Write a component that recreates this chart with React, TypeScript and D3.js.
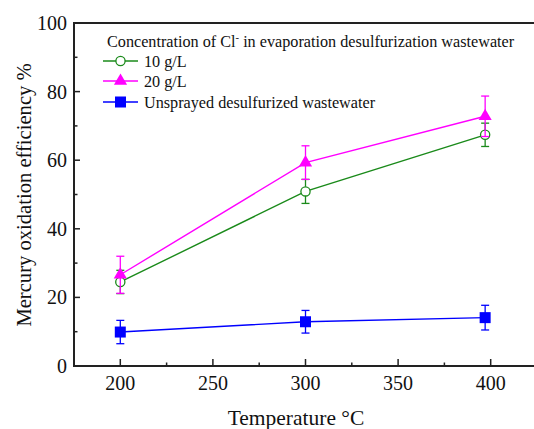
import React from 'react';
import * as d3 from 'd3';

// temperatures (°C) and oxidation efficiency (%)
const temps = [200, 300, 397];
const cl10 = [24.5, 50.9, 67.4];
const cl10Err = [3.4, 3.5, 3.4];
const cl20 = [26.6, 59.3, 72.8];
const cl20Err = [5.4, 4.9, 5.9];
const unsprayed = [9.9, 12.9, 14.1];
const unsprayedErr = [3.4, 3.3, 3.6];

const xTicks = [200, 250, 300, 350, 400];
const xMinor = [225, 275, 325, 375];
const yTicks = [0, 20, 40, 60, 80, 100];
const yMinor = [10, 30, 50, 70, 90];

const width = 534;
const height = 429;
const font = 'Liberation Serif, DejaVu Serif, serif';

const series = [
  { name: '10 g/L', values: cl10, err: cl10Err, color: '#1a8a1a', marker: 'circle' },
  { name: '20 g/L', values: cl20, err: cl20Err, color: '#ff00ff', marker: 'triangle' },
  { name: 'Unsprayed desulfurized wastewater', values: unsprayed, err: unsprayedErr, color: '#0000ff', marker: 'square' },
];

const Marker: React.FC<{ type: string; x: number; y: number; color: string }> = ({ type, x, y, color }) => {
  if (type === 'circle') {
    return <circle cx={x} cy={y} r={4.6} fill="white" stroke={color} strokeWidth={1.3} />;
  }
  if (type === 'triangle') {
    const s = d3.symbol().type(d3.symbolTriangle).size(75)();
    return <path d={s || ''} transform={`translate(${x},${y})`} fill={color} />;
  }
  return <rect x={x - 5.5} y={y - 5.5} width={11} height={11} fill={color} />;
};

export default function App() {
  const x = d3.scaleLinear().domain([175, 425]).range([74, 537]);
  const y = d3.scaleLinear().domain([0, 100]).range([366, 23]);
  const line = d3.line<[number, number]>()
    .x(d => x(d[0]))
    .y(d => y(d[1]));

  const axisColor = '#222';
  const legendX = 103;
  const legendY = [61, 81, 102];

  return (
    <svg width={width} height={height} style={{ position: 'absolute', left: 0, top: 0, background: 'white' }}>
      <g fontFamily={font}>
      {/* frame */}
      <line x1={x(175)} x2={x(175)} y1={y(100)} y2={y(0) + 1} stroke={axisColor} strokeWidth={2} />
      <line x1={x(175) - 1} x2={x(425)} y1={y(0)} y2={y(0)} stroke={axisColor} strokeWidth={2} />
      <line x1={x(175) - 1} x2={x(425)} y1={y(100)} y2={y(100)} stroke={axisColor} strokeWidth={2} />

      {/* y ticks */}
      {yTicks.map(t => (
        <g key={`y${t}`}>
          <line x1={x(175)} x2={x(175) + 6} y1={y(t)} y2={y(t)} stroke={axisColor} strokeWidth={1.5} />
          <text x={x(175) - 7} y={y(t) + 7} textAnchor="end" fontSize={20} fill="#111">{t}</text>
        </g>
      ))}
      {yMinor.map(t => (
        <line key={`ym${t}`} x1={x(175)} x2={x(175) + 3.5} y1={y(t)} y2={y(t)} stroke={axisColor} strokeWidth={1.5} />
      ))}

      {/* x ticks */}
      {xTicks.map(t => (
        <g key={`x${t}`}>
          <line x1={x(t)} x2={x(t)} y1={y(0)} y2={y(0) - 7} stroke={axisColor} strokeWidth={1.5} />
          <text x={x(t)} y={y(0) + 24} textAnchor="middle" fontSize={20} fill="#111">{t}</text>
        </g>
      ))}
      {xMinor.map(t => (
        <line key={`xm${t}`} x1={x(t)} x2={x(t)} y1={y(0)} y2={y(0) - 3.5} stroke={axisColor} strokeWidth={1.5} />
      ))}

      {/* axis titles */}
      <text x={296} y={425} textAnchor="middle" fontSize={21.5} fill="#111">Temperature °C</text>
      <text transform="translate(31,195) rotate(-90)" textAnchor="middle" fontSize={20.6} fill="#111">Mercury oxidation efficiency %</text>

      {/* series */}
      {series.map(s => {
        const pts = temps.map((t, i) => [t, s.values[i]] as [number, number]);
        return (
          <g key={s.name}>
            <path d={line(pts) || ''} fill="none" stroke={s.color} strokeWidth={1.4} />
            {pts.map((p, i) => (
              <g key={i} stroke={s.color} strokeWidth={1.3}>
                <line x1={x(p[0])} x2={x(p[0])} y1={y(p[1] - s.err[i])} y2={y(p[1] + s.err[i])} />
                <line x1={x(p[0]) - 4} x2={x(p[0]) + 4} y1={y(p[1] + s.err[i])} y2={y(p[1] + s.err[i])} />
                <line x1={x(p[0]) - 4} x2={x(p[0]) + 4} y1={y(p[1] - s.err[i])} y2={y(p[1] - s.err[i])} />
              </g>
            ))}
            {pts.map((p, i) => (
              <Marker key={`m${i}`} type={s.marker} x={x(p[0])} y={y(p[1])} color={s.color} />
            ))}
          </g>
        );
      })}

      {/* legend */}
      <text x={107} y={47} fontSize={16.2} fill="#111">
        Concentration of Cl<tspan dy={-6} fontSize={10.5}>-</tspan><tspan dy={6}> in evaporation desulfurization wastewater</tspan>
      </text>
      {series.map((s, i) => (
        <g key={`lg${i}`}>
          <line x1={legendX} x2={legendX + 35} y1={legendY[i]} y2={legendY[i]} stroke={s.color} strokeWidth={1.4} />
          <Marker type={s.marker} x={legendX + 17.5} y={legendY[i]} color={s.color} />
          <text x={144} y={legendY[i] + 5.5} fontSize={16.2} fill="#111">{s.name}</text>
        </g>
      ))}
      </g>
    </svg>
  );
}
